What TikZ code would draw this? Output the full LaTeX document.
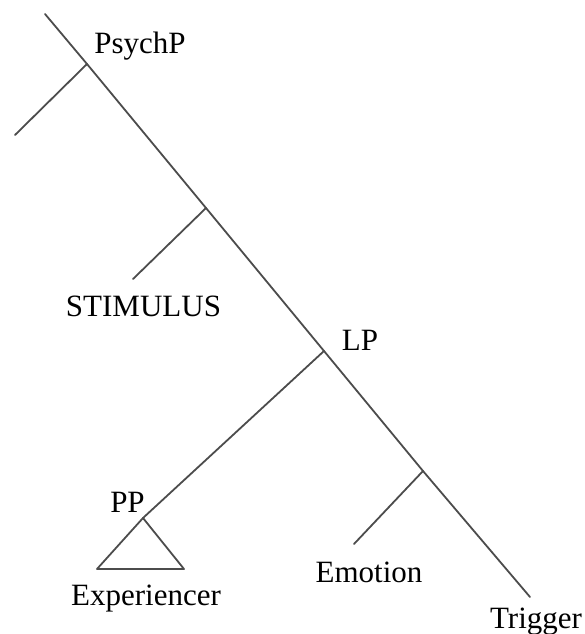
\documentclass[tikz,border=0pt]{standalone}
\usepackage{fontspec}
\setmainfont{Liberation Serif}
\usepackage{tikz}
\tikzset{
  branch/.style={line width=1.8pt, color=black!70, line cap=round},
  label/.style={inner sep=0pt, anchor=base, font=\fontsize{31}{31}\selectfont}
}

\begin{document}
\begin{tikzpicture}[x=1pt, y=-1pt]
\useasboundingbox (0,0) rectangle (585,634);
% spine of the tree
\coordinate (top) at (45,14);
\coordinate (psychp) at (87,64);
\coordinate (stim) at (206,208);
\coordinate (lp) at (324,351);
\coordinate (emo) at (423,471);
\coordinate (trig) at (530,597);
\draw [branch] (top) -- (psychp) -- (stim) -- (lp) -- (emo) -- (trig);
% side branches
\coordinate (spec) at (15,135);
\coordinate (stimend) at (133,279);
\coordinate (pp) at (143,518);
\coordinate (emoend) at (354,544);
\draw [branch] (psychp) -- (spec);
\draw [branch] (stim) -- (stimend);
\draw [branch] (lp) -- (pp);
\draw [branch] (emo) -- (emoend);
% triangle under PP
\coordinate (triL) at (97,569);
\coordinate (triR) at (184,569);
\draw [branch, line join=round] (pp) -- (triL) -- (triR) -- cycle;
% labels
\node [label] (lpsychp) at (140,53) {PsychP};
\node [label] (lstim) at (143.5,316) {STIMULUS};
\node [label] (llp) at (360,350) {LP};
\node [label] (lpp) at (127.5,512) {PP};
\node [label] (lexp) at (146,605) {Experiencer};
\node [label] (lemo) at (369,582) {Emotion};
\node [label] (ltrig) at (536,628) {Trigger};
\end{tikzpicture}
\end{document}
